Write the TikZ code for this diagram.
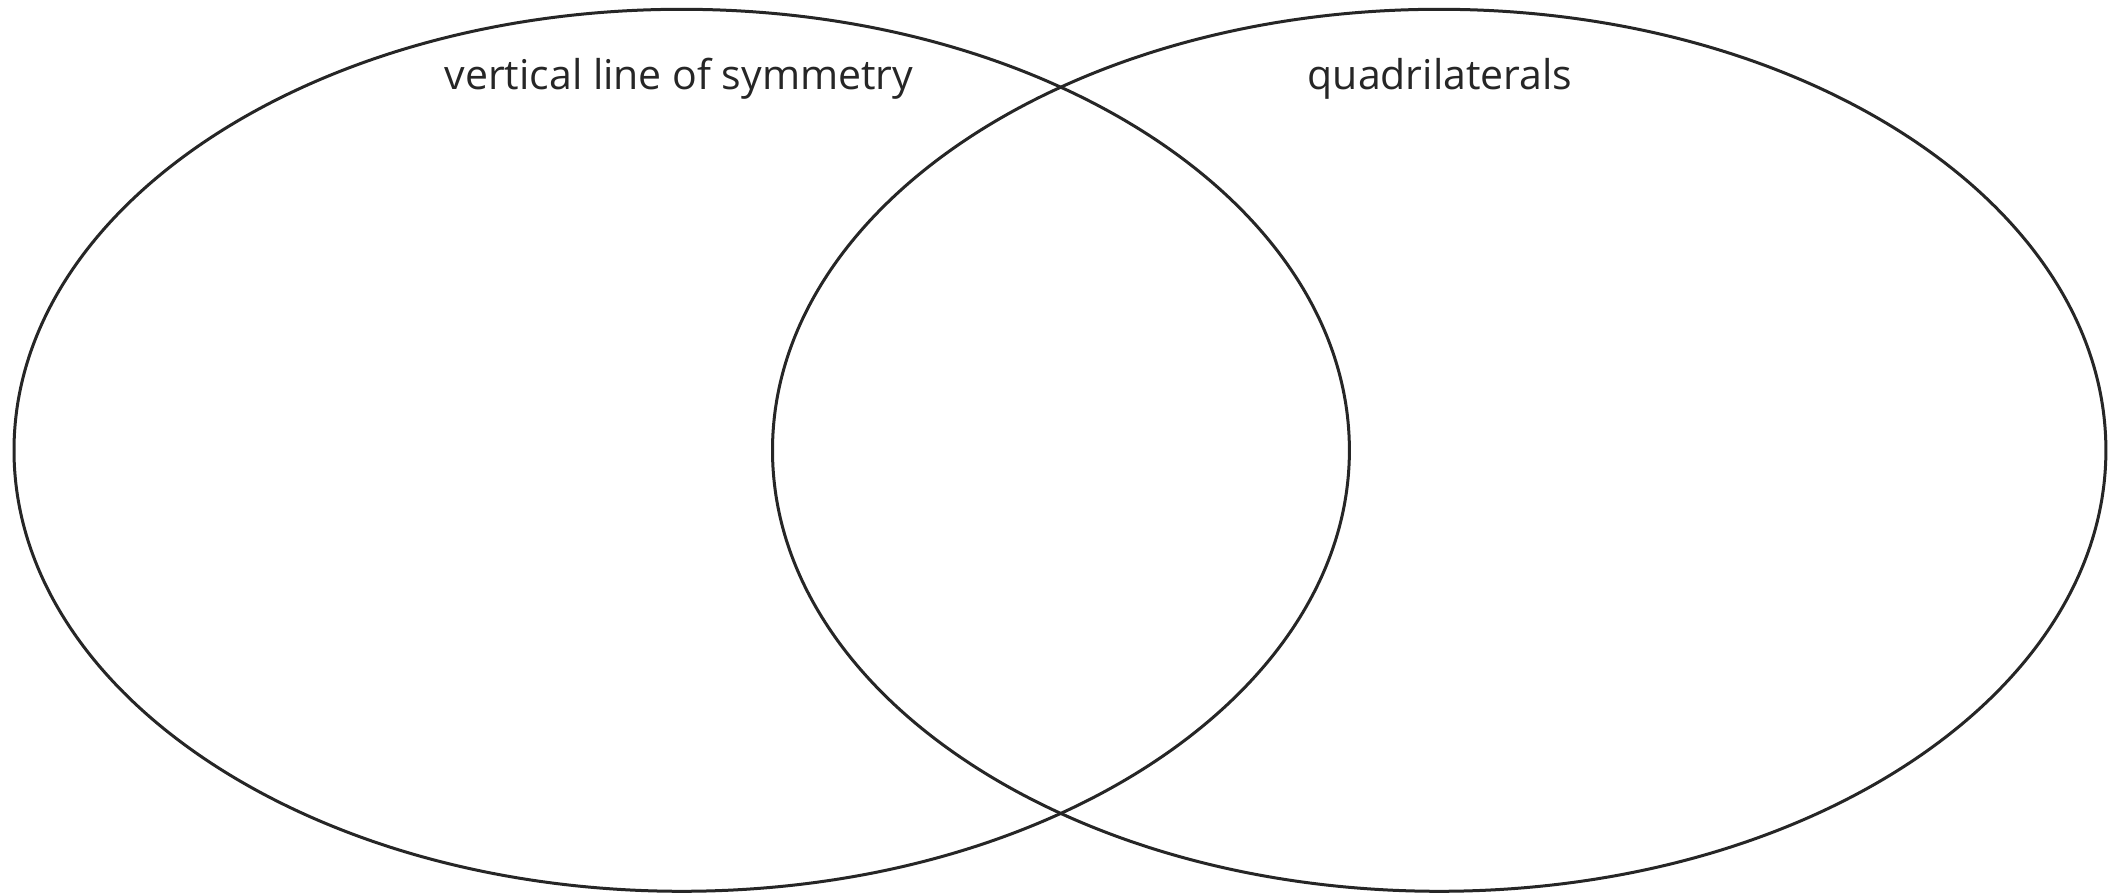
\documentclass[tikz,border=0pt]{standalone}
\usepackage{fontspec}
\setmainfont[Ligatures={NoCommon,NoRare}]{Open Sans}
\usetikzlibrary{shapes.geometric}
\definecolor{ink}{HTML}{262626}
\begin{document}
\begin{tikzpicture}[x=1pt,y=1pt,
  setring/.style={draw=ink,line width=3pt,ellipse,inner sep=0pt,outer sep=0pt},
  setlabel/.style={anchor=base,text=ink,font=\fontsize{41}{49}\selectfont,inner sep=0pt}]
\useasboundingbox[fill=white] (0,0) rectangle (2116,893);
\node[setring,minimum width=1335.4pt,minimum height=882pt] (left) at (681.7,442.7) {};
\node[setring,minimum width=1333.4pt,minimum height=882pt] (right) at (1439.2,442.7) {};
\node[setlabel] (lbl1) at (679,803) {vertical line of symmetry};
\node[setlabel] (lbl2) at (1440,803) {quadrilaterals};
\end{tikzpicture}
\end{document}
